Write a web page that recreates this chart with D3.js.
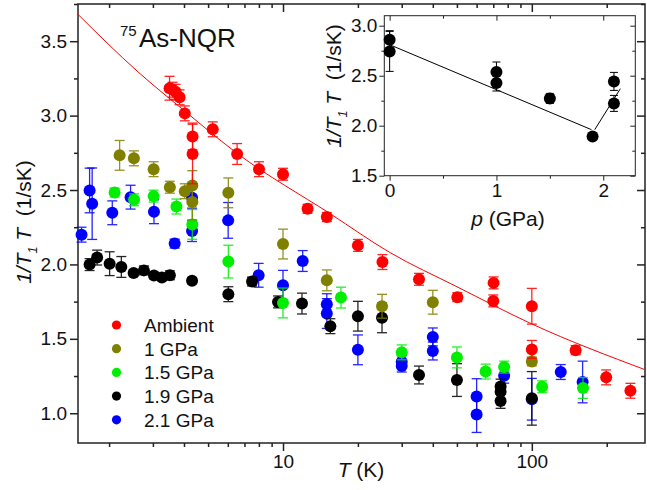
<!DOCTYPE html>
<html><head><meta charset="utf-8">
<script src="https://cdn.jsdelivr.net/npm/d3@7"></script>
<style>body{margin:0;background:#fff}svg{font-family:"Liberation Sans",Arial,sans-serif}</style>
</head><body><svg id="c" width="647" height="490"></svg>
<script>
// ---------------- data ----------------
const seriesNames  = ["Ambient", "1 GPa", "1.5 GPa", "1.9 GPa", "2.1 GPa"];
const seriesColors = ["#ff0000", "#808000", "#00ee00", "#000000", "#0000ff"];
// each entry: [T (K), 1/T1T (1/sK), error]
const ambient = [[3.50,3.184,0.08],[3.60,3.174,0.05],[3.70,3.16,0.05],[3.84,3.123,0.05],[4.03,3.015,0.05],
  [4.33,2.86,0.09],[4.33,2.742,0.2],[5.22,2.908,0.05],[6.54,2.742,0.07],[8.01,2.64,0.05],[10,2.606,0.04],
  [12.55,2.374,0.03],[15.0,2.318,0.03],[20.0,2.128,0.04],[25.1,2.016,0.05],[35.2,1.90,0.04],[50.2,1.78,0.03],
  [70.2,1.876,0.04],[70,1.755,0.04],[100,1.719,0.12],[100,1.429,0.06],[150,1.424,0.03],[199,1.241,0.05],[249,1.151,0.05]];
const gpa1 = [[2.205,2.733,0.1],[2.516,2.713,0.05],[3.02,2.64,0.05],[3.51,2.519,0.04],[4.03,2.492,0.05],
  [4.32,2.53,0.1],[4.32,2.42,0.12],[6.03,2.481,0.1],[10,2.137,0.1],[15,1.893,0.07],[25,1.719,0.08],
  [40,1.746,0.08],[100,1.348,0.03]];
const gpa15 = [[2.105,2.483,0.03],[2.52,2.434,0.04],[3.02,2.459,0.04],[3.73,2.389,0.05],[4.32,2.269,0.1],
  [6.03,2.019,0.11],[10,1.741,0.1],[17.1,1.777,0.07],[30,1.409,0.05],[50,1.375,0.07],[65.2,1.28,0.05],
  [77.4,1.31,0.04],[110,1.178,0.04],[160.6,1.17,0.07]];
const gpa19 = [[1.67,1.999,0.04],[1.79,2.046,0.05],[2.01,2.005,0.08],[2.24,1.983,0.07],[2.51,1.942,0.02],
  [2.76,1.96,0.03],[3.03,1.925,0.02],[3.26,1.912,0.02],[3.51,1.927,0.03],[4.31,1.891,0.02],[6.03,1.8,0.05],
  [7.51,1.885,0.03],[9.55,1.748,0.04],[11.92,1.737,0.07],[15.5,1.585,0.05],[20,1.652,0.1],[25,1.641,0.1],
  [35.2,1.257,0.06],[50,1.223,0.11],[74.9,1.179,0.05],[74.9,1.145,0.05],[74.9,1.083,0.05],[100,1.1,0.18]];
const gpa21 = [[1.55,2.2,0.05],[1.67,2.497,0.15],[1.71,2.408,0.24],[2.06,2.347,0.08],[2.44,2.452,0.08],
  [3.03,2.354,0.08],[3.67,2.14,0.03],[4.31,2.448,0.07],[4.31,2.224,0.07],[6.02,2.296,0.12],[7.98,1.927,0.08],
  [10,1.86,0.1],[12.0,2.023,0.07],[15,1.733,0.07],[15,1.67,0.1],[20,1.426,0.1],[30,1.346,0.04],[30,1.317,0.04],
  [40,1.513,0.06],[40,1.418,0.06],[60,1.112,0.12],[60,0.991,0.12],[77.4,1.252,0.05],[100,1.094,0.14],
  [130.7,1.277,0.05],[160,1.21,0.14]];
// fit curve
const fitT = [1.5, 2.59, 4.03, 6.62, 15.5, 26.9, 50, 100, 288];
const fitV = [3.68, 3.30, 3.03, 2.74, 2.34, 2.08, 1.85, 1.60, 1.29];
// axis ticks
const yMajor = [1.0, 1.5, 2.0, 2.5, 3.0, 3.5];
const yMinor = [1.25, 1.75, 2.25, 2.75, 3.25, 3.75];
const xMajor = [10, 100];
const xMinor = [2,3,4,5,6,7,8,9,20,30,40,50,60,70,80,90,200];
// inset
const inP = [0, 0, 1, 1, 1.5, 1.9, 2.1, 2.1];
const inV = [2.86, 2.743, 2.537, 2.427, 2.273, 1.893, 2.443, 2.223];
const inE = [0.09, 0.2, 0.1, 0.08, 0.05, 0.01, 0.09, 0.08];
const inLine1P = [0, 1.89], inLine1V = [2.81, 1.96];
const inLine2P = [1.92, 2.16], inLine2V = [1.96, 2.37];
const inXMajor = [0, 1, 2], inXMinor = [0.5, 1.5];
const inYMajor = [1.5, 2.0, 2.5, 3.0], inYMinor = [1.75, 2.25, 2.75];

const series = [gpa21, gpa19, gpa15, gpa1, ambient];
const seriesIdx = [4, 3, 2, 1, 0];

// ---------------- drawing ----------------
const svg = d3.select("#c");
const AX = "#222";
const M = {l: 78, r: 645, t: 4, b: 443};
const x = d3.scaleLog().domain([1.5, 285]).range([M.l, M.r]);
const y = d3.scaleLinear().domain([0.8, 3.75]).range([M.b, M.t]);

svg.append("defs").append("clipPath").attr("id", "clipMain")
  .append("rect").attr("x", M.l).attr("y", M.t).attr("width", M.r - M.l).attr("height", M.b - M.t);

function styleAxis(g, fs) {
  g.select(".domain").remove();
  g.selectAll("line").attr("stroke", AX).attr("stroke-width", 1.5);
  g.selectAll("text").attr("font-size", fs).attr("fill", "#111").attr("font-family", "Liberation Sans, Arial, sans-serif");
}
// bottom
svg.append("g").attr("transform", `translate(0,${M.b})`)
  .call(d3.axisBottom(x).tickValues(xMajor).tickSize(8).tickPadding(4).tickFormat(d3.format("d")))
  .call(g => styleAxis(g, 19));
svg.append("g").attr("transform", `translate(0,${M.b})`)
  .call(d3.axisBottom(x).tickValues(xMinor).tickSize(4).tickFormat(""))
  .call(g => styleAxis(g, 19));
// top (inward)
svg.append("g").attr("transform", `translate(0,${M.t})`)
  .call(d3.axisBottom(x).tickValues(xMajor).tickSize(8).tickFormat(""))
  .call(g => styleAxis(g, 19));
svg.append("g").attr("transform", `translate(0,${M.t})`)
  .call(d3.axisBottom(x).tickValues(xMinor).tickSize(4).tickFormat(""))
  .call(g => styleAxis(g, 19));
// left
svg.append("g").attr("transform", `translate(${M.l},0)`)
  .call(d3.axisLeft(y).tickValues(yMajor).tickSize(8).tickPadding(3).tickFormat(d3.format(".1f")))
  .call(g => styleAxis(g, 19));
svg.append("g").attr("transform", `translate(${M.l},0)`)
  .call(d3.axisLeft(y).tickValues(yMinor).tickSize(4).tickFormat(""))
  .call(g => styleAxis(g, 19));
// right (inward)
svg.append("g").attr("transform", `translate(${M.r},0)`)
  .call(d3.axisLeft(y).tickValues(yMajor).tickSize(8).tickFormat(""))
  .call(g => styleAxis(g, 19));
svg.append("g").attr("transform", `translate(${M.r},0)`)
  .call(d3.axisLeft(y).tickValues(yMinor).tickSize(4).tickFormat(""))
  .call(g => styleAxis(g, 19));
// frame
svg.append("rect").attr("x", M.l).attr("y", M.t).attr("width", M.r - M.l).attr("height", M.b - M.t)
  .attr("fill", "none").attr("stroke", AX).attr("stroke-width", 1.5);

// fit line
const fitData = fitT.map((t, i) => [t, fitV[i]]);
svg.append("path").datum(fitData).attr("clip-path", "url(#clipMain)")
  .attr("d", d3.line().x(d => x(d[0])).y(d => y(d[1])).curve(d3.curveMonotoneX))
  .attr("fill", "none").attr("stroke", "#ff0000").attr("stroke-width", 1);

// data series
series.forEach((data, k) => {
  const c = seriesColors[seriesIdx[k]];
  const g = svg.append("g");
  const eb = g.selectAll("g.eb").data(data).join("g").attr("stroke", c).attr("stroke-width", 1.3).attr("opacity", 0.85);
  eb.append("line").attr("x1", d => x(d[0])).attr("x2", d => x(d[0]))
    .attr("y1", d => y(d[1] - d[2])).attr("y2", d => y(d[1] + d[2]));
  eb.append("line").attr("x1", d => x(d[0]) - 5).attr("x2", d => x(d[0]) + 5)
    .attr("y1", d => y(d[1] - d[2])).attr("y2", d => y(d[1] - d[2]));
  eb.append("line").attr("x1", d => x(d[0]) - 5).attr("x2", d => x(d[0]) + 5)
    .attr("y1", d => y(d[1] + d[2])).attr("y2", d => y(d[1] + d[2]));
  g.selectAll("circle").data(data).join("circle")
    .attr("cx", d => x(d[0])).attr("cy", d => y(d[1])).attr("r", 6).attr("fill", c);
});

// legend
const lg = svg.append("g");
seriesNames.forEach((n, i) => {
  const yy = 325 + i * 23.7;
  lg.append("circle").attr("cx", 116.5).attr("cy", yy).attr("r", 4.6).attr("fill", seriesColors[i]);
  lg.append("text").attr("x", 144).attr("y", yy + 7).attr("font-size", 19).attr("fill", "#111").text(n);
});

// label
svg.append("text").attr("x", 120).attr("y", 36).attr("font-size", 15).attr("fill", "#111").text("75");
svg.append("text").attr("x", 139).attr("y", 47).attr("font-size", 26).attr("fill", "#111").text("As-NQR");

// axis titles
function yTitle(cx, cy, fs) {
  const t = svg.append("text").attr("transform", `translate(${cx},${cy}) rotate(-90)`)
    .attr("text-anchor", "middle").attr("font-size", fs).attr("fill", "#111");
  t.append("tspan").attr("font-style", "italic").text("1/T");
  t.append("tspan").attr("font-style", "italic").attr("font-size", fs * 0.6).attr("dy", fs * 0.3).text("1");
  t.append("tspan").attr("font-style", "italic").attr("dy", -fs * 0.3).text(" T");
  t.append("tspan").text("\u00a0 (1/sK)");
  return t;
}
yTitle(31, 222, 21);
const xt = svg.append("text").attr("x", 361).attr("y", 477).attr("text-anchor", "middle").attr("font-size", 21).attr("fill", "#111");
xt.append("tspan").attr("font-style", "italic").text("T");
xt.append("tspan").text(" (K)");

// ---------------- inset ----------------
const I = {l: 384.3, r: 635.3, t: 15.7, b: 175.7};
const xi = d3.scaleLinear().domain([-0.05, 2.3]).range([I.l, I.r]);
const yi = d3.scaleLinear().domain([1.5, 3.1]).range([I.b, I.t]);
svg.append("rect").attr("x", I.l).attr("y", I.t).attr("width", I.r - I.l).attr("height", I.b - I.t).attr("fill", "#fff");

function styleI(g) {
  g.select(".domain").remove();
  g.selectAll("line").attr("stroke", AX).attr("stroke-width", 1);
  g.selectAll("text").attr("font-size", 19).attr("fill", "#111").attr("font-family", "Liberation Sans, Arial, sans-serif");
}
svg.append("g").attr("transform", `translate(0,${I.b})`)
  .call(d3.axisBottom(xi).tickValues(inXMajor).tickSize(5).tickPadding(3).tickFormat(d3.format("d"))).call(styleI);
svg.append("g").attr("transform", `translate(0,${I.b})`)
  .call(d3.axisBottom(xi).tickValues(inXMinor).tickSize(3).tickFormat("")).call(styleI);
svg.append("g").attr("transform", `translate(0,${I.t})`)
  .call(d3.axisBottom(xi).tickValues(inXMajor).tickSize(5).tickFormat("")).call(styleI);
svg.append("g").attr("transform", `translate(0,${I.t})`)
  .call(d3.axisBottom(xi).tickValues(inXMinor).tickSize(3).tickFormat("")).call(styleI);
svg.append("g").attr("transform", `translate(${I.l},0)`)
  .call(d3.axisLeft(yi).tickValues(inYMajor).tickSize(5).tickPadding(2).tickFormat(d3.format(".1f"))).call(styleI);
svg.append("g").attr("transform", `translate(${I.l},0)`)
  .call(d3.axisLeft(yi).tickValues(inYMinor).tickSize(3).tickFormat("")).call(styleI);
svg.append("g").attr("transform", `translate(${I.r},0)`)
  .call(d3.axisLeft(yi).tickValues(inYMajor).tickSize(5).tickFormat("")).call(styleI);
svg.append("g").attr("transform", `translate(${I.r},0)`)
  .call(d3.axisLeft(yi).tickValues(inYMinor).tickSize(3).tickFormat("")).call(styleI);
svg.append("rect").attr("x", I.l).attr("y", I.t).attr("width", I.r - I.l).attr("height", I.b - I.t)
  .attr("fill", "none").attr("stroke", AX).attr("stroke-width", 1);

const lineI = d3.line().x(d => xi(d[0])).y(d => yi(d[1]));
svg.append("path").datum(inLine1P.map((p, i) => [p, inLine1V[i]])).attr("d", lineI)
  .attr("fill", "none").attr("stroke", "#000").attr("stroke-width", 1);
svg.append("path").datum(inLine2P.map((p, i) => [p, inLine2V[i]])).attr("d", lineI)
  .attr("fill", "none").attr("stroke", "#000").attr("stroke-width", 1);

const inData = inP.map((p, i) => [p, inV[i], inE[i]]);
const ieb = svg.append("g").selectAll("g").data(inData).join("g").attr("stroke", "#000").attr("stroke-width", 1);
ieb.append("line").attr("x1", d => xi(d[0])).attr("x2", d => xi(d[0])).attr("y1", d => yi(d[1] - d[2])).attr("y2", d => yi(d[1] + d[2]));
ieb.append("line").attr("x1", d => xi(d[0]) - 4).attr("x2", d => xi(d[0]) + 4).attr("y1", d => yi(d[1] - d[2])).attr("y2", d => yi(d[1] - d[2]));
ieb.append("line").attr("x1", d => xi(d[0]) - 4).attr("x2", d => xi(d[0]) + 4).attr("y1", d => yi(d[1] + d[2])).attr("y2", d => yi(d[1] + d[2]));
svg.append("g").selectAll("circle").data(inData).join("circle")
  .attr("cx", d => xi(d[0])).attr("cy", d => yi(d[1])).attr("r", 6).attr("fill", "#000");

yTitle(341, 86, 21);
const pt = svg.append("text").attr("x", 508).attr("y", 226).attr("text-anchor", "middle").attr("font-size", 21).attr("fill", "#111");
pt.append("tspan").attr("font-style", "italic").text("p");
pt.append("tspan").text(" (GPa)");
</script></body></html>
